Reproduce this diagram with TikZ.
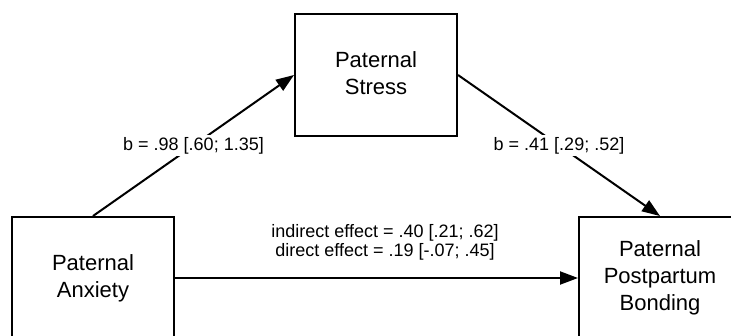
\documentclass[tikz,border=0pt]{standalone}
\usepackage{fontspec}
\setmainfont{Liberation Sans}
\usetikzlibrary{arrows.meta}

\tikzset{
  varbox/.style={draw=black, line width=2pt, minimum width=162pt, minimum height=122pt,
    align=center, inner sep=0pt, font=\fontsize{22}{27}\selectfont},
  path/.style={draw=black, line width=2pt, -{Triangle[length=18pt,width=13pt]}},
  coef/.style={fill=white, inner sep=2pt, font=\fontsize{18}{20}\selectfont},
  effects/.style={align=center, inner sep=0pt, font=\fontsize{18}{19.5}\selectfont}
}

\begin{document}
\begin{tikzpicture}[x=1pt, y=1pt]
  \useasboundingbox (0,0) rectangle (731,335);

  % the three variables of the mediation model
  \node[varbox] (stress)  at (376,260) {Paternal\\Stress\vphantom{y}};
  \node[varbox] (anxiety) at (93,57)   {Paternal\\Anxiety};
  \node[varbox] (bonding) at (660,57)  {Paternal\\Postpartum\\Bonding};

  % a and b paths through the mediator
  \draw[path] (anxiety.north) -- node[coef] (apath) {b = .98 [.60; 1.35]} (stress.west);
  \draw[path] (stress.east) -- node[coef] (bpath) {b = .41 [.29; .52]} (bonding.north);

  % direct path with the effect estimates
  \draw[path] (anxiety.east) -- (bonding.west);
  \node[effects] (effect) at (385,92.5)
    {indirect effect = .40 [.21; .62]\\ direct effect = .19 [-.07; .45]};
\end{tikzpicture}
\end{document}
